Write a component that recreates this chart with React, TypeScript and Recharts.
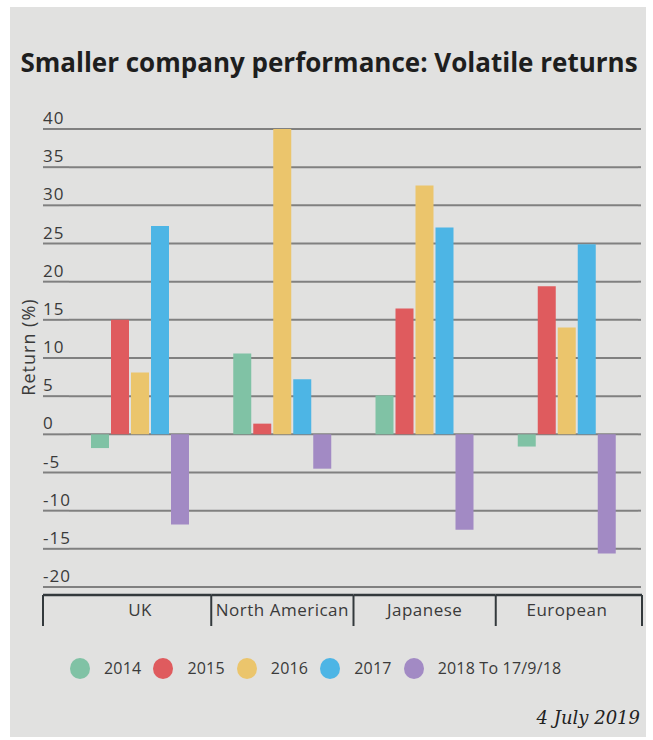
import React from "react";
import { BarChart, Bar, CartesianGrid, XAxis, YAxis } from "recharts";

const categories = ["UK", "North American", "Japanese", "European"];
const returns2014 = [-1.8, 10.6, 5.1, -1.6];
const returns2015 = [15.0, 1.4, 16.5, 19.4];
const returns2016 = [8.1, 40.0, 32.6, 14.0];
const returns2017 = [27.3, 7.2, 27.1, 24.9];
const returns2018 = [-11.8, -4.5, -12.5, -15.6];
const yTicks = [-20, -15, -10, -5, 0, 5, 10, 15, 20, 25, 30, 35, 40];

const series = [
  { key: "y2014", name: "2014", values: returns2014, color: "#80c2a5" },
  { key: "y2015", name: "2015", values: returns2015, color: "#df5b5e" },
  { key: "y2016", name: "2016", values: returns2016, color: "#ebc56c" },
  { key: "y2017", name: "2017", values: returns2017, color: "#4db5e5" },
  { key: "y2018", name: "2018 To 17/9/18", values: returns2018, color: "#a28ac4" },
];

const data = categories.map((name, i) => {
  const row: Record<string, string | number> = { name };
  series.forEach((s) => (row[s.key] = s.values[i]));
  return row;
});

// layout
const PLOT_LEFT = 69;
const PLOT_RIGHT = 638;
const PLOT_TOP = 129;
const PLOT_BOTTOM = 587;
const GRID_LEFT = 43;
const GRID_RIGHT = 641;
const CHART_H = 640;
const FONT = "'Open Sans', sans-serif";
const TEXT = "#3a3a3a";
const GRID = "#808080";
const FRAME = "#33393c";

const YTick = ({ y, payload }: any) => (
  <g>
    <line x1={GRID_LEFT} x2={PLOT_LEFT} y1={y} y2={y} stroke={GRID} strokeWidth={2} />
    <line x1={PLOT_RIGHT} x2={GRID_RIGHT} y1={y} y2={y} stroke={GRID} strokeWidth={2} />
    <text
      x={GRID_LEFT}
      y={y - 5}
      textAnchor="start"
      fontSize={17}
      letterSpacing={1}
      fill={TEXT}
      fontFamily={FONT}
    >
      {payload.value}
    </text>
  </g>
);

const XTick = ({ x, payload, index }: any) => {
  const band = (PLOT_RIGHT - PLOT_LEFT) / categories.length;
  const left = index === 0 ? GRID_LEFT : x - band / 2;
  const right = index === categories.length - 1 ? GRID_RIGHT + 1 : x + band / 2;
  const lineY = 595;
  return (
    <g>
      <line x1={left} x2={right} y1={lineY} y2={lineY} stroke={FRAME} strokeWidth={2.5} />
      {index === 0 && (
        <line x1={left} x2={left} y1={lineY} y2={lineY + 31} stroke={FRAME} strokeWidth={2} />
      )}
      <line x1={right} x2={right} y1={lineY} y2={lineY + 31} stroke={FRAME} strokeWidth={2} />
      <text
        x={x}
        y={616}
        textAnchor="middle"
        fontSize={17}
        letterSpacing={0.5}
        fill={TEXT}
        fontFamily={FONT}
      >
        {payload.value}
      </text>
    </g>
  );
};

const App: React.FC = () => {
  return (
    <div style={{ position: "absolute", left: 0, top: 0, width: 653, height: 740, background: "#fff" }}>
      <div
        style={{
          position: "absolute",
          left: 10,
          top: 7,
          width: 636,
          height: 730,
          background: "#e1e1e0",
        }}
      />
      <div
        style={{
          position: "absolute",
          left: 0,
          width: 658,
          top: 44,
          textAlign: "center",
          fontFamily: FONT,
          fontWeight: 700,
          fontSize: 26,
          lineHeight: "36px",
          color: "#1e1e1e",
          whiteSpace: "nowrap",
        }}
      >
        Smaller company performance: Volatile returns
      </div>
      <div
        style={{
          position: "absolute",
          left: 28,
          top: 347,
          transform: "translate(-50%, -50%) rotate(-90deg)",
          fontFamily: FONT,
          fontSize: 18,
          letterSpacing: 1,
          color: TEXT,
          whiteSpace: "nowrap",
        }}
      >
        Return (%)
      </div>
      <div style={{ position: "absolute", left: 0, top: 0 }}>
        <BarChart
          width={653}
          height={CHART_H}
          data={data}
          barSize={18}
          barGap={2}
          margin={{ top: PLOT_TOP, right: 653 - PLOT_RIGHT, left: GRID_LEFT, bottom: 13 }}
        >
          <CartesianGrid vertical={false} stroke={GRID} strokeWidth={2} />
          <XAxis
            dataKey="name"
            height={CHART_H - PLOT_BOTTOM - 13}
            axisLine={false}
            tickLine={false}
            interval={0}
            tick={<XTick />}
          />
          <YAxis
            width={PLOT_LEFT - GRID_LEFT}
            domain={[-20, 40]}
            ticks={yTicks}
            interval={0}
            axisLine={false}
            tickLine={false}
            tick={<YTick />}
          />
          {series.map((s) => (
            <Bar key={s.key} dataKey={s.key} name={s.name} fill={s.color} isAnimationActive={false} />
          ))}
        </BarChart>
      </div>
      <div
        style={{
          position: "absolute",
          left: 70,
          top: 657,
          display: "flex",
          alignItems: "center",
          fontFamily: FONT,
          fontSize: 16,
          letterSpacing: 0.2,
          color: TEXT,
        }}
      >
        {series.map((s) => (
          <div key={s.key} style={{ display: "flex", alignItems: "center", marginRight: 12 }}>
            <span
              style={{
                display: "inline-block",
                width: 20,
                height: 21,
                borderRadius: "50%",
                background: s.color,
                marginRight: 14,
              }}
            />
            <span>{s.name}</span>
          </div>
        ))}
      </div>
      <div
        style={{
          position: "absolute",
          right: 13,
          top: 707,
          fontFamily: "'DejaVu Serif', serif",
          fontStyle: "italic",
          fontSize: 18,
          color: "#222",
        }}
      >
        4 July 2019
      </div>
    </div>
  );
};

export default App;
